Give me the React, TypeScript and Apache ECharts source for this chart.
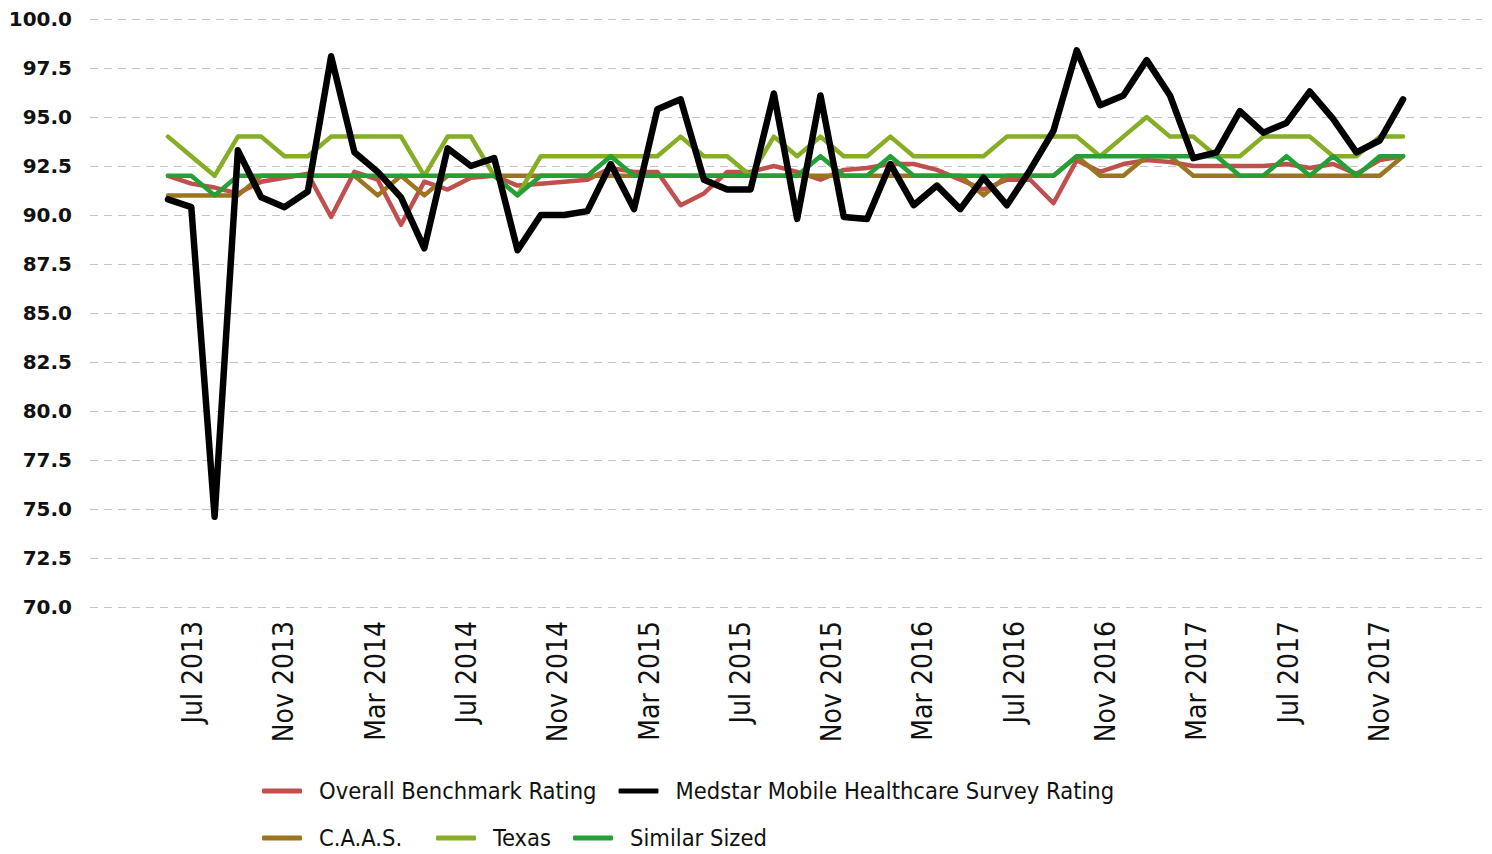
import React, { useEffect, useRef } from "react";
import * as echarts from "echarts";

const MONTH_NAMES = ["Jan", "Feb", "Mar", "Apr", "May", "Jun", "Jul", "Aug", "Sep", "Oct", "Nov", "Dec"];

function buildMonths(startYear: number, startMonth: number, count: number): string[] {
  const out: string[] = [];
  for (let k = 0; k < count; k++) {
    const m = startMonth + k;
    out.push(MONTH_NAMES[m % 12] + " " + (startYear + Math.floor(m / 12)));
  }
  return out;
}

// date axis (Mar 2013 .. Mar 2018), labels every 4 months from Jul 2013
const axisMonths: string[] = buildMonths(2013, 2, 61);
// data points (54 monthly readings)
const pointMonths: string[] = buildMonths(2013, 5, 54);

const yTicks = [70, 72.5, 75, 77.5, 80, 82.5, 85, 87.5, 90, 92.5, 95, 97.5, 100];

const overall: number[] = [
  92.0, 91.6, 91.4, 91.1, 91.7, 91.9, 92.1, 89.9, 92.2, 91.8,
  89.5, 91.7, 91.3, 91.9, 92.0, 91.5, 91.6, 91.7, 91.8, 92.4,
  92.2, 92.2, 90.5, 91.1, 92.2, 92.2, 92.5, 92.2, 91.8, 92.3,
  92.4, 92.6, 92.6, 92.3, 91.8, 91.3, 91.8, 91.8, 90.6, 92.8,
  92.2, 92.6, 92.8, 92.7, 92.5, 92.5, 92.5, 92.5, 92.6, 92.4,
  92.6, 92.1, 92.8, 93.0,
];

const medstar: number[] = [
  90.8, 90.4, 74.6, 93.3, 90.9, 90.4, 91.2, 98.1, 93.2, 92.2,
  90.9, 88.3, 93.4, 92.5, 92.9, 88.2, 90.0, 90.0, 90.2, 92.6,
  90.3, 95.4, 95.9, 91.8, 91.3, 91.3, 96.2, 89.8, 96.1, 89.9,
  89.8, 92.6, 90.5, 91.5, 90.3, 91.9, 90.5, 92.3, 94.3, 98.4,
  95.6, 96.1, 97.9, 96.1, 92.9, 93.2, 95.3, 94.2, 94.7, 96.3,
  94.9, 93.2, 93.8, 95.9,
];

const caas: number[] = [
  91, 91, 91, 91, 92, 92, 92, 92, 92, 91,
  92, 91, 92, 92, 92, 92, 92, 92, 92, 92,
  92, 92, 92, 92, 92, 92, 92, 92, 92, 92,
  92, 92, 92, 92, 92, 91, 92, 92, 92, 93,
  92, 92, 93, 93, 92, 92, 92, 92, 92, 92,
  92, 92, 92, 93,
];

const texas: number[] = [
  94, 93, 92, 94, 94, 93, 93, 94, 94, 94,
  94, 92, 94, 94, 92, 91, 93, 93, 93, 93,
  93, 93, 94, 93, 93, 92, 94, 93, 94, 93,
  93, 94, 93, 93, 93, 93, 94, 94, 94, 94,
  93, 94, 95, 94, 94, 93, 93, 94, 94, 94,
  93, 93, 94, 94,
];

const similar: number[] = [
  92, 92, 91, 92, 92, 92, 92, 92, 92, 92,
  92, 92, 92, 92, 92, 91, 92, 92, 92, 93,
  92, 92, 92, 92, 92, 92, 92, 92, 93, 92,
  92, 93, 92, 92, 92, 92, 92, 92, 92, 93,
  93, 93, 93, 93, 93, 93, 92, 92, 93, 92,
  93, 92, 93, 93,
];

const SERIES = [
  { name: "Overall Benchmark Rating", data: overall, color: "#C0504D", width: 4.5, z: 2 },
  { name: "C.A.A.S.", data: caas, color: "#9C7520", width: 4.5, z: 3 },
  { name: "Texas", data: texas, color: "#86AE25", width: 4.5, z: 4 },
  { name: "Similar Sized", data: similar, color: "#25A036", width: 4.5, z: 5 },
  { name: "Medstar Mobile Healthcare Survey Rating", data: medstar, color: "#000000", width: 6.5, z: 6 },
];

const FONT = "'DejaVu Sans Condensed', 'DejaVu Sans', sans-serif";

export default function App() {
  const ref = useRef<HTMLDivElement>(null);

  useEffect(() => {
    if (!ref.current) return;
    const chart = echarts.init(ref.current, undefined, { renderer: "svg" });
    const legendText = { fontFamily: FONT, fontSize: 23.5, color: "#111", padding: [0, 0, 0, 12] };
    const legendBase = {
      icon: "roundRect",
      itemWidth: 40,
      itemHeight: 5,
      itemGap: 22,
      padding: 0,
      textStyle: legendText,
    };
    chart.setOption({
      animation: false,
      backgroundColor: "#ffffff",
      grid: [
        { left: 90, right: 10, top: 19, height: 588 },
        { left: 168, right: 89, top: 19, height: 588 },
      ],
      xAxis: [
        {
          type: "category",
          gridIndex: 0,
          data: axisMonths,
          boundaryGap: true,
          axisLine: { show: false },
          axisTick: { show: false },
          splitLine: { show: false },
          axisLabel: {
            rotate: 90,
            margin: 14,
            interval: (idx: number) => idx >= 4 && idx <= 56 && (idx - 4) % 4 === 0,
            fontFamily: FONT,
            fontSize: 28,
            color: "#111",
          },
        },
        {
          type: "category",
          gridIndex: 1,
          data: pointMonths,
          boundaryGap: false,
          show: false,
        },
      ],
      yAxis: [
        {
          type: "value",
          gridIndex: 0,
          min: yTicks[0],
          max: yTicks[yTicks.length - 1],
          interval: 2.5,
          axisLine: { show: false },
          axisTick: { show: false },
          axisLabel: {
            margin: 18,
            formatter: (v: number) => v.toFixed(1),
            fontFamily: "'DejaVu Sans', sans-serif",
            fontWeight: "bold",
            fontSize: 20,
            color: "#111",
          },
          splitLine: { show: true, lineStyle: { color: "#c4c4c4", width: 1, type: [8, 6] } },
        },
        {
          type: "value",
          gridIndex: 1,
          min: yTicks[0],
          max: yTicks[yTicks.length - 1],
          show: false,
          splitLine: { show: false },
        },
      ],
      legend: [
        {
          ...legendBase,
          data: ["Overall Benchmark Rating", "Medstar Mobile Healthcare Survey Rating"],
          left: 262,
          top: 779,
        },
        {
          ...legendBase,
          data: ["C.A.A.S."],
          left: 262,
          top: 826,
        },
        {
          ...legendBase,
          data: ["Texas", "Similar Sized"],
          left: 436,
          top: 826,
        },
      ],
      series: SERIES.map((s) => ({
        name: s.name,
        type: "line",
        xAxisIndex: 1,
        yAxisIndex: 1,
        data: s.data,
        showSymbol: false,
        symbol: "none",
        z: s.z,
        color: s.color,
        lineStyle: { color: s.color, width: s.width, cap: "round", join: "round" },
        itemStyle: { color: s.color },
      })),
    });
    return () => chart.dispose();
  }, []);

  return (
    <div
      ref={ref}
      style={{ position: "fixed", left: 0, top: 0, width: 1492, height: 854, background: "#fff" }}
    />
  );
}
